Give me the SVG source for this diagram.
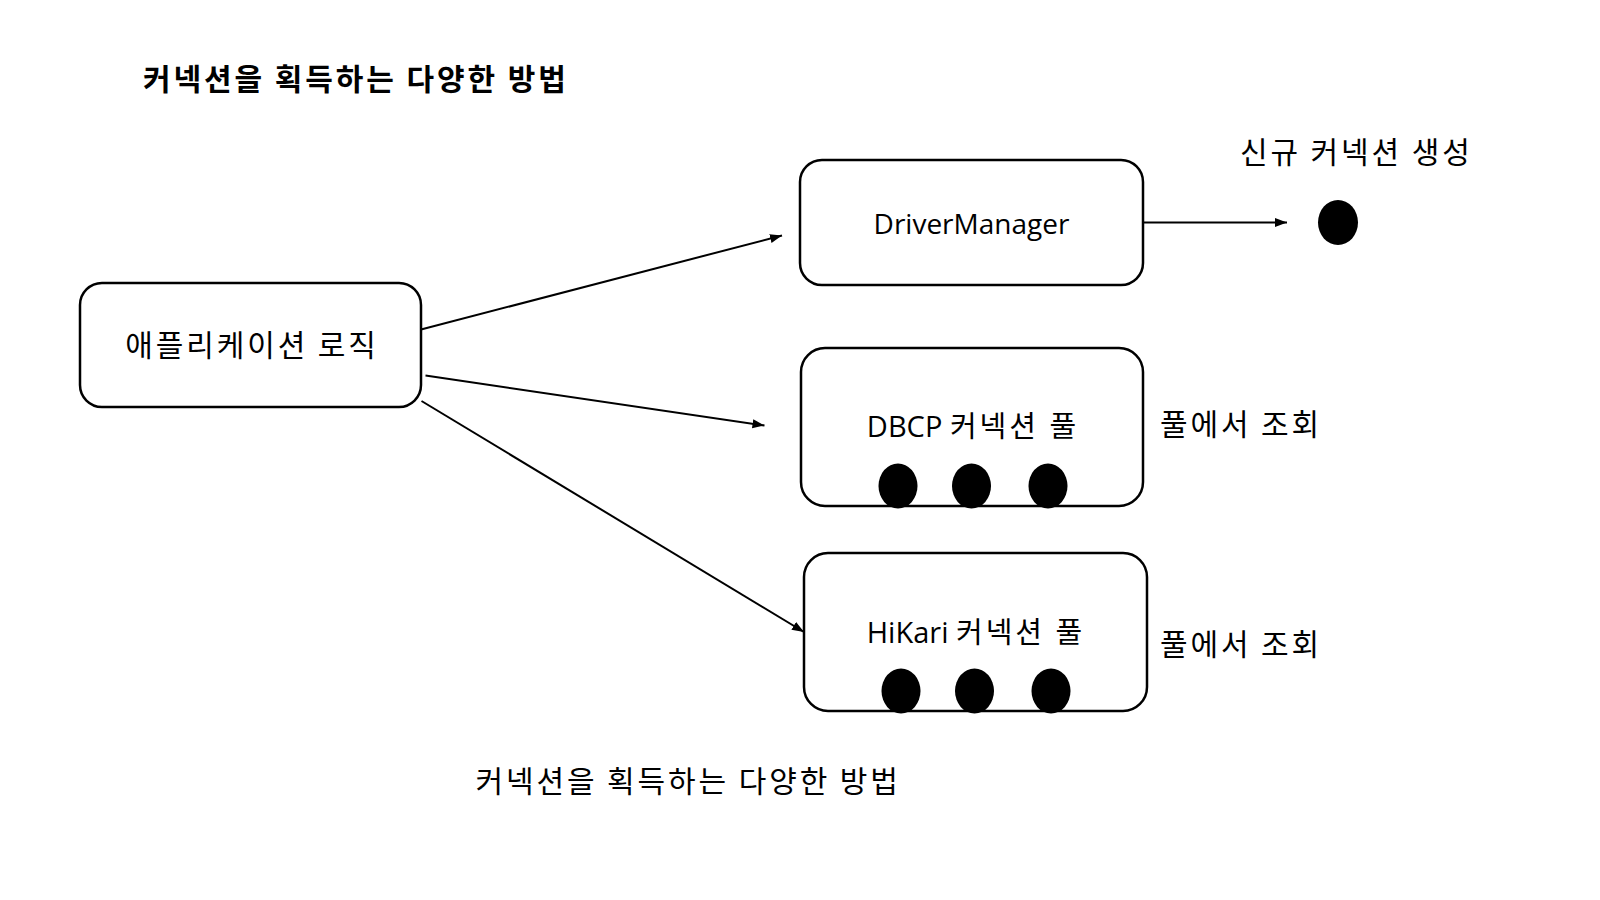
<svg xmlns="http://www.w3.org/2000/svg" width="1600" height="900" viewBox="0 0 1600 900">
  <defs>
    <style>
      .box { fill: #ffffff; stroke: #000000; stroke-width: 2.5; }
      .dot { fill: #000000; }
      .conn { stroke: #000000; stroke-width: 2; fill: none; marker-end: url(#arrow); }
      .t { font-family: "Open Sans", "Noto Sans CJK KR", sans-serif; fill: #000000; }
      .ko { font-family: "Noto Sans CJK KR", sans-serif; font-size: 30px; fill: #000000; letter-spacing: 2.9px; }
      .ks { letter-spacing: 3px; }
      .title { font-weight: bold; }
    </style>
    <marker id="arrow" markerUnits="userSpaceOnUse" markerWidth="12" markerHeight="10" refX="12" refY="5" orient="auto">
      <path d="M0,0.5 L12,5 L0,9.5 Z" fill="#000000"/>
    </marker>
  </defs>
  <rect width="1600" height="900" fill="#ffffff"/>

  <text class="ko title" x="143" y="90">커넥션을 획득하는 다양한 방법</text>

  <g id="connectors">
    <path class="conn" d="M421,329.5 L782,235.5"/>
    <path class="conn" d="M425.5,375.5 L764.5,425.5"/>
    <path class="conn" d="M421.5,401 L804,632"/>
    <path class="conn" d="M1143,222.5 L1287,222.5"/>
  </g>

  <g id="app">
    <rect class="box" x="80" y="283" width="341" height="124" rx="22"/>
    <text class="ko" x="252" y="355.5" text-anchor="middle">애플리케이션 로직</text>
  </g>

  <g id="drivermanager">
    <rect class="box" x="800" y="160" width="343" height="125" rx="22"/>
    <text class="t" x="971.5" y="233.5" font-size="28" text-anchor="middle">DriverManager</text>
  </g>

  <g id="new-connection">
    <text class="ko" x="1240" y="163">신규 커넥션 생성</text>
    <ellipse class="dot" cx="1338" cy="222.5" rx="20" ry="22.5"/>
  </g>

  <g id="dbcp">
    <rect class="box" x="801" y="348" width="342" height="158" rx="24"/>
    <text class="t" x="973" y="437" font-size="29" text-anchor="middle">DBCP <tspan class="ks">커넥션 풀</tspan></text>
    <ellipse class="dot" cx="898" cy="486" rx="19.5" ry="22.5"/>
    <ellipse class="dot" cx="971.5" cy="486" rx="19.5" ry="22.5"/>
    <ellipse class="dot" cx="1048" cy="486" rx="19.5" ry="22.5"/>
  </g>
  <text class="ko" x="1160" y="435">풀에서 조회</text>

  <g id="hikari">
    <rect class="box" x="804" y="553" width="343" height="158" rx="24"/>
    <text class="t" x="976" y="643" font-size="29" text-anchor="middle">HiKari <tspan class="ks">커넥션 풀</tspan></text>
    <ellipse class="dot" cx="901" cy="691" rx="19.5" ry="22.5"/>
    <ellipse class="dot" cx="974.5" cy="691" rx="19.5" ry="22.5"/>
    <ellipse class="dot" cx="1051" cy="691" rx="19.5" ry="22.5"/>
  </g>
  <text class="ko" x="1160" y="654.5">풀에서 조회</text>

  <text class="ko" x="475.5" y="792">커넥션을 획득하는 다양한 방법</text>
</svg>
